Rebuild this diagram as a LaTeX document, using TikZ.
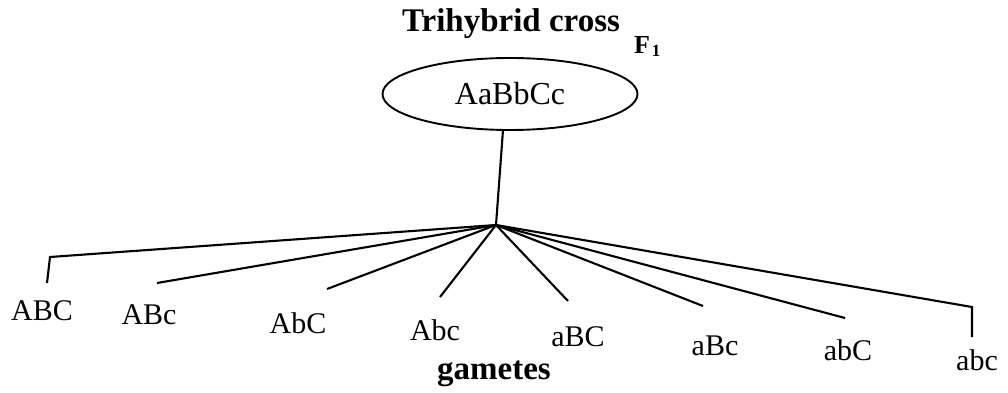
\documentclass[tikz,border=0pt]{standalone}
\usepackage{fontspec}
\setmainfont{Liberation Serif}
\usetikzlibrary{shapes.geometric}
\tikzset{
  lbl/.style={font=\fontsize{30}{32}\selectfont, inner sep=0pt, anchor=center},
  ttl/.style={font=\fontsize{33}{35}\selectfont\bfseries, inner sep=0pt},
  conn/.style={line width=2.1pt, line join=miter},
}
\begin{document}
\begin{tikzpicture}[x=1pt,y=-1pt]
\useasboundingbox (0,0) rectangle (1008,393);
\node[ttl] (title) at (511,24) {Trihybrid cross};
\node[font=\fontsize{26}{28}\selectfont\bfseries, inner sep=0pt] (F) at (642,45) {F};
\node[font=\fontsize{17}{18}\selectfont\bfseries, inner sep=0pt] (Fsub) at (656,51) {1};
\node[ellipse, draw, line width=1.9pt, minimum width=255pt, minimum height=72pt, inner sep=0pt,
      font=\fontsize{32}{34}\selectfont] (e) at (510,94) {AaBbCc};
\coordinate (top) at (503,130);
\coordinate (hub) at (496,225);
\draw[conn] (top) -- (hub);
% gamete labels
\node[lbl] (g1) at (42,311) {ABC};
\node[lbl] (g2) at (149,315) {ABc};
\node[lbl] (g3) at (298,323) {AbC};
\node[lbl] (g4) at (435,330) {Abc};
\node[lbl] (g5) at (578,337) {aBC};
\node[lbl] (g6) at (715,346) {aBc};
\node[lbl] (g7) at (848,350) {abC};
\node[lbl] (g8) at (977,360) {abc};
\node[font=\fontsize{33}{35}\selectfont\bfseries, inner sep=0pt] (gam) at (494,374) {gametes};
% line ends
\coordinate (c1a) at (50,257);
\coordinate (c1) at (47,283);
\coordinate (c2) at (157,283);
\coordinate (c3) at (327,289);
\coordinate (c4) at (440,297);
\coordinate (c5) at (568,301);
\coordinate (c6) at (703,306);
\coordinate (c7) at (845,318);
\coordinate (c8a) at (972,307);
\coordinate (c8) at (972,337);
\draw[conn] (hub) -- (c1a) -- (c1);
\draw[conn] (hub) -- (c2);
\draw[conn] (hub) -- (c3);
\draw[conn] (hub) -- (c4);
\draw[conn] (hub) -- (c5);
\draw[conn] (hub) -- (c6);
\draw[conn] (hub) -- (c7);
\draw[conn] (hub) -- (c8a) -- (c8);
\end{tikzpicture}
\end{document}
